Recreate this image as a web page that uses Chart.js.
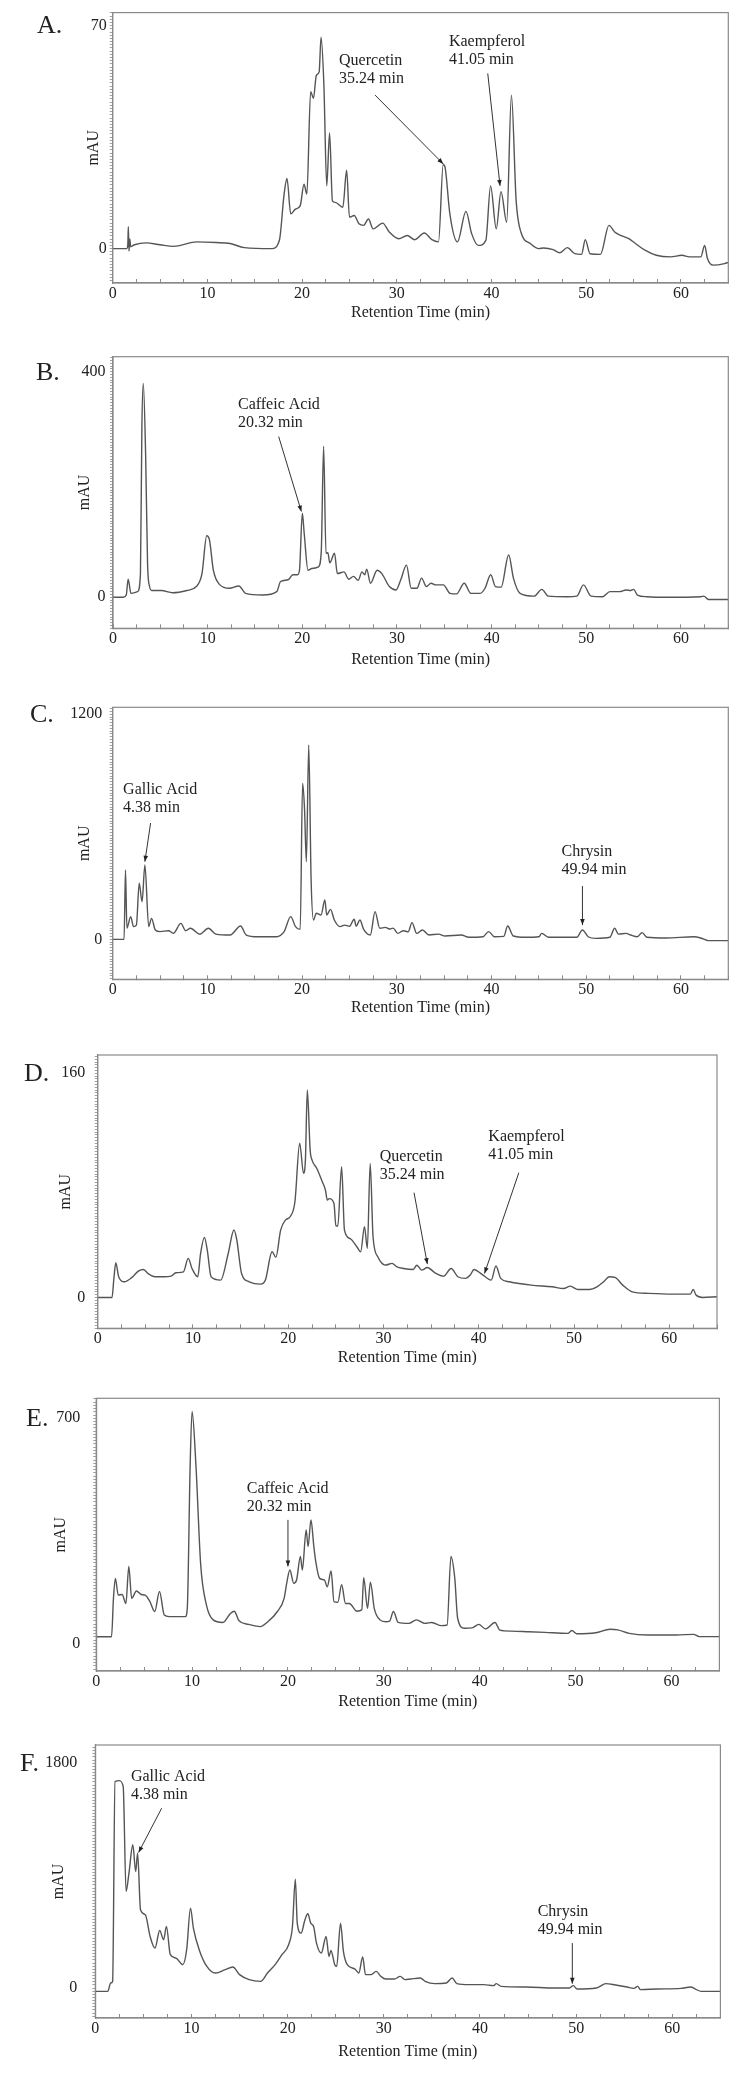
<!DOCTYPE html>
<html>
<head>
<meta charset="utf-8">
<script src="https://cdn.jsdelivr.net/npm/chart.js@4.4.1/dist/chart.umd.min.js"></script>
<style>
  body { margin: 0; background: #fff; }
  canvas { position: absolute; left: 0; }
</style>
</head>
<body>
<canvas id="chartA"></canvas>
<canvas id="chartB"></canvas>
<canvas id="chartC"></canvas>
<canvas id="chartD"></canvas>
<canvas id="chartE"></canvas>
<canvas id="chartF"></canvas>
<script>
// retention time axis (min)
const xTickLabels = [0, 10, 20, 30, 40, 50, 60];

// A
const timeA = [0, 1.5, 1.6, 1.65, 1.72, 1.8, 1.9, 2.3, 3.5, 5.0,
  6.4, 8.9, 10.9, 12.4, 13.9, 16.8, 17.6, 18.1, 18.4, 18.8,
  19.3, 19.8, 20.2, 20.5, 20.9, 21.2, 21.5, 21.8, 22.0, 22.3,
  22.6, 22.9, 23.2, 23.5, 24.3, 24.7, 25.0, 25.5, 26.0, 26.5,
  27.0, 27.5, 28.5, 29.2, 30.2, 31.1, 31.9, 32.9, 33.7, 34.4,
  34.9, 35.1, 35.6, 36.4, 37.3, 37.9, 38.6, 39.4, 39.9, 40.5,
  41.0, 41.6, 42.1, 42.6, 43.1, 44.1, 45.0, 45.5, 46.5, 47.2,
  48.0, 48.8, 49.5, 49.9, 50.4, 51.5, 52.4, 53.0, 53.7, 54.5,
  55.2, 56.2, 57.4, 58.9, 60.1, 60.9, 62.1, 62.5, 62.8, 63.4,
  64.6, 65];
const mauA = [0, 0, 1.5, 6.9, -0.8, 3.0, 0.6, 1.2, 1.8, 1.2,
  0.7, 2.1, 1.9, 1.6, 0.3, 0, 2.6, 17.1, 22, 10.9,
  12.4, 13.5, 20.2, 17.1, 49.3, 47.2, 54.4, 55.5, 66.4, 51.3,
  19.7, 36.3, 15, 14.5, 13, 24.6, 9.9, 10.4, 7.8, 7.3,
  9.3, 6.2, 8, 5.2, 3.1, 4.1, 2.8, 4.9, 2.8, 2.1,
  26.4, 25.4, 10.9, 2.1, 11.7, 4.7, 1, 2.6, 19.7, 6.2,
  17.9, 8.3, 48.2, 15, 5.2, 1.6, 0, 0.2, -0.3, -1.3,
  0.3, -1.6, -1.8, 2.8, -1.6, -1.8, 7.3, 5.2, 4.1, 3.1,
  1.6, -0.5, -2.1, -2.6, -2.1, -2.6, -2.6, 1, -3.1, -5.2,
  -4.7, -4.3];
const yTicksA = [0, 70];

// B
const timeB = [0, 1.1, 1.4, 1.6, 1.9, 2.6, 2.9, 3.05, 3.2, 3.45,
  3.65, 3.85, 4.1, 5.1, 6.3, 7.8, 8.8, 9.4, 9.9, 10.2,
  10.6, 11.3, 12.3, 13.3, 14.0, 15.8, 17.3, 17.7, 18.5, 19.0,
  19.5, 19.7, 20.0, 20.2, 20.6, 21.0, 21.7, 22.0, 22.25, 22.5,
  22.7, 22.9, 23.4, 23.7, 24.4, 24.9, 25.4, 25.9, 26.3, 26.6,
  26.8, 27.2, 27.9, 28.4, 29.2, 29.9, 30.4, 31.0, 31.5, 32.1,
  32.6, 33.1, 33.6, 34.1, 34.9, 35.6, 36.3, 37.1, 37.8, 38.8,
  39.3, 39.9, 40.4, 41.0, 41.8, 42.3, 43.0, 44.5, 45.3, 46.0,
  48.0, 49.0, 49.7, 50.5, 51.7, 52.5, 53.5, 54.2, 54.7, 55.0,
  55.4, 56.4, 58.4, 62.1, 62.4, 62.9, 65];
const mauB = [0, 0, 4, 32, 7, 10, 42, 300, 379, 250,
  60, 20, 12, 12, 8, 12, 19, 42, 109, 101,
  48, 22, 16, 20, 7, 4, 10, 28, 31, 40,
  40, 48, 149, 113, 48, 51, 54, 81, 268, 78,
  79, 61, 78, 42, 45, 32, 37, 30, 45, 40,
  50, 25, 48, 42, 19, 13, 31, 57, 16, 16,
  34, 19, 25, 22, 22, 7, 6, 25, 7, 7,
  16, 40, 19, 18, 75, 34, 7, 2, 14, 2,
  1, 2, 22, 2, 1, 10, 10, 13, 12, 14,
  4, 1, 0, 1, 2, -4, -4];
const yTicksB = [0, 400];

// C
const timeC = [0, 1.2, 1.35, 1.5, 1.9, 2.2, 2.5, 2.8, 3.1, 3.4,
  3.8, 4.1, 4.5, 5.0, 5.9, 6.4, 7.2, 7.7, 8.2, 9.2,
  10.1, 10.9, 12.4, 13.5, 14.1, 15.3, 17.3, 18.1, 18.8, 19.3,
  19.8, 20.05, 20.25, 20.45, 20.7, 20.95, 21.2, 21.5, 22.0, 22.4,
  22.6, 23.0, 23.4, 24.0, 24.5, 25.0, 25.5, 25.7, 26.1, 26.5,
  27.2, 27.7, 28.2, 28.8, 29.2, 29.6, 30.1, 30.7, 31.2, 31.6,
  32.1, 32.7, 33.4, 34.4, 35.1, 36.8, 37.6, 39.1, 39.7, 40.3,
  41.3, 41.7, 42.3, 43.6, 45.0, 45.3, 46.0, 49.0, 49.6, 50.2,
  51.0, 52.5, 53.0, 53.4, 54.2, 54.7, 55.4, 55.9, 56.4, 58.4,
  61.4, 62.1, 62.9, 65];
const mauC = [0, 0, 370, 60, 121, 68, 76, 299, 201, 396,
  68, 112, 50, 41, 46, 32, 85, 46, 59, 28,
  59, 28, 23, 71, 23, 14, 14, 41, 121, 68,
  53, 832, 700, 414, 1036, 316, 103, 139, 130, 210,
  130, 160, 103, 68, 76, 70, 107, 70, 103, 53,
  23, 148, 59, 64, 55, 60, 32, 46, 40, 89,
  32, 50, 23, 28, 18, 23, 11, 14, 41, 14,
  16, 71, 18, 11, 14, 32, 11, 11, 50, 14,
  5, 11, 59, 28, 32, 23, 14, 36, 11, 7,
  14, 7, -7, -7];
const yTicksC = [0, 1200];

// D
const timeD = [0, 1.5, 1.7, 1.9, 2.2, 2.8, 3.6, 4.3, 4.8, 5.3,
  6.0, 7.0, 7.7, 8.2, 9.0, 9.5, 9.9, 10.5, 10.8, 11.2,
  11.5, 11.9, 12.9, 13.7, 14.3, 14.6, 15.1, 15.9, 17.1, 17.6,
  18.3, 18.7, 19.2, 19.7, 20.2, 20.7, 21.2, 21.6, 21.8, 22.0,
  22.3, 22.5, 23.0, 23.5, 23.9, 24.1, 24.3, 24.8, 25.0, 25.2,
  25.6, 25.9, 26.5, 27.2, 27.6, 28.0, 28.3, 28.6, 28.9, 29.4,
  30.2, 30.9, 31.4, 32.1, 33.1, 33.5, 34.0, 34.6, 35.4, 36.3,
  37.1, 37.8, 38.6, 39.1, 39.5, 40.3, 41.3, 41.8, 42.3, 43.2,
  45.5, 47.7, 48.9, 49.6, 50.4, 51.6, 52.4, 53.1, 53.7, 54.3,
  55.1, 56.1, 57.8, 60.3, 62.2, 62.5, 62.8, 63.5, 65];
const mauD = [0, 0, 13.6, 24.8, 14.8, 11.2, 14.3, 19, 20, 17,
  14.8, 14.8, 15.2, 17.6, 18.3, 27.9, 20.7, 14.8, 31.4, 42.9,
  33.8, 14.8, 12.4, 31.4, 48.1, 41, 17.1, 11.2, 9.5, 12.4,
  32.6, 28.6, 48.1, 55.2, 57.6, 68.3, 110, 88.6, 98, 148,
  105, 98, 92, 83.8, 76.7, 69.5, 70.5, 67.1, 51, 51,
  93.3, 48.1, 42, 36.2, 32.6, 50.5, 35, 95.7, 43.3, 29,
  23.1, 24.3, 21.9, 20.7, 20, 23, 19.5, 21.4, 17.6, 15.2,
  20.7, 14.8, 13.6, 16, 20, 16.7, 12.4, 22.4, 13.6, 11.2,
  8.8, 7.6, 6.4, 8.1, 5.7, 5.7, 7.6, 11.2, 14.8, 14.3,
  8.8, 4, 2.9, 2.4, 2.4, 5.7, 1.7, 0, 0.5];
const yTicksD = [0, 160];

// E
const timeE = [0, 1.6, 1.8, 2.0, 2.3, 2.7, 3.1, 3.4, 3.7, 4.2,
  4.7, 5.1, 5.6, 6.1, 6.6, 7.1, 7.6, 9.3, 9.5, 9.8,
  10.0, 10.4, 10.9, 11.5, 12.2, 13.2, 14.0, 14.4, 14.9, 15.9,
  17.1, 17.9, 18.9, 19.6, 19.9, 20.2, 20.6, 20.9, 21.3, 21.5,
  21.9, 22.1, 22.4, 22.7, 22.9, 23.3, 23.8, 24.1, 24.5, 24.8,
  25.2, 25.6, 26.0, 26.4, 27.2, 27.7, 27.9, 28.3, 28.6, 29.0,
  29.6, 30.2, 30.6, 31.0, 31.5, 32.6, 33.4, 34.3, 35.0, 36.0,
  36.6, 37.0, 37.4, 37.7, 38.4, 39.2, 39.9, 40.6, 41.6, 42.1,
  43.3, 45.1, 46.8, 49.2, 49.6, 50.1, 52.1, 53.6, 54.4, 55.6,
  57.5, 60.5, 62.3, 62.9, 65];
const mauE = [20.7, 20.7, 140, 202, 150, 152, 124, 239, 140, 163,
  152, 150, 130, 99, 161, 88, 83, 83, 109, 555,
  721, 555, 244, 119, 73, 65, 93, 100, 70, 59,
  52, 67, 99, 140, 192, 228, 187, 197, 270, 228,
  353, 301, 384, 301, 254, 202, 197, 176, 225, 130,
  128, 182, 124, 124, 100, 104, 204, 109, 190, 109,
  73, 67, 69, 99, 65, 62, 73, 62, 65, 55,
  57, 270, 202, 78, 47, 48, 59, 45, 65, 41,
  38, 36, 34, 31, 40, 30, 33, 44, 42, 31,
  26, 26, 28, 21, 21];
const yTicksE = [0, 700];

// F
const timeF = [0, 1.3, 1.6, 1.8, 2.05, 2.5, 2.9, 3.2, 3.5, 3.9,
  4.2, 4.4, 4.7, 5.2, 5.7, 6.2, 6.7, 7.1, 7.4, 7.8,
  8.4, 9.1, 9.5, 9.9, 10.2, 10.8, 11.6, 12.5, 13.5, 14.3,
  15.0, 16.0, 17.2, 17.9, 18.7, 19.4, 20.1, 20.5, 20.8, 21.0,
  21.4, 21.8, 22.1, 22.4, 22.7, 23.0, 23.5, 24.0, 24.3, 24.5,
  24.9, 25.1, 25.5, 25.8, 26.2, 27.0, 27.4, 27.8, 28.1, 28.7,
  29.2, 29.7, 30.2, 31.1, 31.7, 32.2, 32.8, 33.8, 34.3, 35.3,
  36.5, 37.1, 37.6, 38.9, 40.4, 41.4, 41.7, 42.2, 44.8, 47.7,
  49.3, 49.7, 50.1, 52.1, 53.1, 54.1, 55.3, 56.0, 56.4, 56.7,
  58.4, 60.9, 61.9, 62.4, 63.0, 65];
const mauF = [-27, -27, 40, 53, 1653, 1661, 1613, 773, 920, 1147,
  933, 1080, 627, 587, 413, 320, 461, 387, 493, 267,
  240, 187, 307, 640, 480, 307, 173, 120, 147, 168,
  107, 67, 53, 120, 187, 267, 347, 493, 872, 520,
  440, 547, 595, 520, 493, 360, 280, 413, 253, 301,
  187, 173, 520, 293, 187, 152, 120, 248, 107, 107,
  133, 93, 72, 72, 93, 67, 72, 80, 53, 35,
  40, 80, 35, 27, 27, 19, 35, 13, 8, 0,
  0, 19, -8, 0, 35, 24, 8, -3, 13, -13,
  -8, -3, 8, -8, -27, -27];
const yTicksF = [0, 1800];

// labelled compounds: text anchor and arrow in data units
const notesA = [
  {name: "Quercetin", time: "35.24 min", text: [23.9, 59.1], from: [27.7, 48.2], to: [34.9, 26.6]},
  {name: "Kaempferol", time: "41.05 min", text: [35.5, 64.8], from: [39.6, 55], to: [40.9, 19.7]}
];
const notesB = [
  {name: "Caffeic Acid", time: "20.32 min", text: [13.2, 341], from: [17.5, 285], to: [19.9, 152]}
];
const notesC = [
  {name: "Gallic Acid", time: "4.38 min", text: [1.1, 796], from: [4.0, 620], to: [3.4, 414]},
  {name: "Chrysin", time: "49.94 min", text: [47.4, 468], from: [49.6, 284], to: [49.6, 76]}
];
const notesD = [
  {name: "Quercetin", time: "35.24 min", text: [29.6, 100.5], from: [33.2, 74.8], to: [34.6, 23.8]},
  {name: "Kaempferol", time: "41.05 min", text: [41.0, 114.8], from: [44.2, 89], to: [40.6, 17.1]}
];
const notesE = [
  {name: "Caffeic Acid", time: "20.32 min", text: [15.7, 480], from: [20.0, 384], to: [20.0, 239]}
];
const notesF = [
  {name: "Gallic Acid", time: "4.38 min", text: [3.7, 1693], from: [6.9, 1440], to: [4.5, 1085]},
  {name: "Chrysin", time: "49.94 min", text: [46.0, 613], from: [49.6, 360], to: [49.6, 35]}
];

const FONT = '"Liberation Serif", "Times New Roman", serif';
const INK = "#222";
const AXIS = "#8a8a8a";

const panels = [
  {id: "chartA", letter: "A.", top: 0, height: 340, area: [112.7, 728.5, 10, 283], yRange: [-10.8, 74.1], yStep: 1,
   yTicks: yTicksA, time: timeA, mau: mauA, notes: notesA, yTitleX: 94, xTitleY: 313, letterX: 37, yPad: 3},
  {id: "chartB", letter: "B.", top: 340, height: 340, area: [113, 729, 356.7, 628.3], yRange: [-55, 426.6], yStep: 5,
   yTicks: yTicksB, time: timeB, mau: mauB, notes: notesB, yTitleX: 84.5, xTitleY: 660, letterX: 36, yPad: 4.5},
  {id: "chartC", letter: "C.", top: 680, height: 340, area: [112.7, 729, 707.3, 979.3], yRange: [-213, 1237], yStep: 15,
   yTicks: yTicksC, time: timeC, mau: mauC, notes: notesC, yTitleX: 84.5, xTitleY: 1008, letterX: 30, yPad: 7.5},
  {id: "chartD", letter: "D.", top: 1020, height: 345, area: [97.7, 717, 1055, 1328.3], yRange: [-22, 173], yStep: 2,
   yTicks: yTicksD, time: timeD, mau: mauD, notes: notesD, yTitleX: 66, xTitleY: 1358, letterX: 24, yPad: 9.5},
  {id: "chartE", letter: "E.", top: 1365, height: 345, area: [96.2, 719.4, 1398.3, 1671], yRange: [-86, 762], yStep: 10,
   yTicks: yTicksE, time: timeE, mau: mauE, notes: notesE, yTitleX: 61, xTitleY: 1702, letterX: 26, yPad: 13},
  {id: "chartF", letter: "F.", top: 1710, height: 363, area: [95.3, 720.4, 1745, 2018], yRange: [-240, 1946], yStep: 25,
   yTicks: yTicksF, time: timeF, mau: mauF, notes: notesF, yTitleX: 59, xTitleY: 2052, letterX: 20, yPad: 15}
];

// box round the plot area
const framePlugin = {
  id: "frame",
  afterDraw(chart) {
    const a = chart.chartArea, ctx = chart.ctx;
    ctx.save();
    ctx.strokeStyle = AXIS;
    ctx.lineWidth = 1.2;
    ctx.strokeRect(a.left, a.top, a.right - a.left, a.bottom - a.top);
    ctx.restore();
  }
};

// compound labels with arrows + panel letter
const notesPlugin = {
  id: "notes",
  afterDraw(chart, args, opts) {
    const ctx = chart.ctx, xs = chart.scales.x, ys = chart.scales.y;
    ctx.save();
    ctx.fillStyle = INK;
    ctx.strokeStyle = "#333";
    ctx.font = "16px " + FONT;
    ctx.textAlign = "left";
    ctx.textBaseline = "middle";
    (opts.items || []).forEach(n => {
      const tx = xs.getPixelForValue(n.text[0]);
      const ty = ys.getPixelForValue(n.text[1]);
      ctx.fillText(n.name, tx, ty);
      ctx.fillText(n.time, tx, ty + 18);
      const x1 = xs.getPixelForValue(n.from[0]), y1 = ys.getPixelForValue(n.from[1]);
      const x2 = xs.getPixelForValue(n.to[0]), y2 = ys.getPixelForValue(n.to[1]);
      ctx.lineWidth = 1;
      ctx.beginPath();
      ctx.moveTo(x1, y1);
      ctx.lineTo(x2, y2);
      ctx.stroke();
      const ang = Math.atan2(y2 - y1, x2 - x1);
      ctx.beginPath();
      ctx.moveTo(x2, y2);
      ctx.lineTo(x2 - 6 * Math.cos(ang) + 2.3 * Math.sin(ang), y2 - 6 * Math.sin(ang) - 2.3 * Math.cos(ang));
      ctx.lineTo(x2 - 6 * Math.cos(ang) - 2.3 * Math.sin(ang), y2 - 6 * Math.sin(ang) + 2.3 * Math.cos(ang));
      ctx.closePath();
      ctx.fill();
    });
    ctx.font = "26px " + FONT;
    ctx.fillText(opts.letter, opts.letterX, ys.getPixelForValue(opts.letterAt) + 1);
    ctx.restore();
  }
};

function buildPanel(p) {
  const canvas = document.getElementById(p.id);
  canvas.width = 733;
  canvas.height = p.height;
  canvas.style.top = p.top + "px";
  const [L, R, T, B] = p.area;
  const xH = p.xTitleY - B + 9.6;
  const points = p.time.map((t, i) => ({x: t, y: p.mau[i]}));

  new Chart(canvas, {
    type: "line",
    data: {
      datasets: [{
        data: points,
        borderColor: "#555",
        borderWidth: 1.4,
        pointRadius: 0,
        cubicInterpolationMode: "monotone",
        fill: false
      }]
    },
    options: {
      responsive: false,
      animation: false,
      layout: {
        autoPadding: false,
        padding: {left: 0, right: 733 - R, top: T - p.top, bottom: p.height - (B - p.top) - xH}
      },
      plugins: {
        legend: {display: false},
        tooltip: {enabled: false},
        notes: {items: p.notes, letter: p.letter, letterX: p.letterX, letterAt: p.yTicks[p.yTicks.length - 1]}
      },
      scales: {
        x: {
          type: "linear",
          min: 0,
          max: 65,
          afterFit: s => { s.height = xH; },
          afterBuildTicks: s => {
            const ticks = [];
            for (let k = 0; k * 2.5 <= 65; k++) ticks.push({value: k * 2.5});
            s.ticks = ticks;
          },
          ticks: {
            autoSkip: false,
            maxRotation: 0,
            padding: 4.7,
            color: INK,
            font: {family: FONT, size: 16},
            callback: v => xTickLabels.includes(v) ? String(v) : ""
          },
          grid: {drawOnChartArea: false, tickLength: -4, color: AXIS, lineWidth: 1},
          border: {color: AXIS, width: 1.2},
          title: {
            display: true,
            text: "Retention Time (min)",
            color: INK,
            font: {family: FONT, size: 16},
            padding: {top: 0, bottom: 0}
          }
        },
        y: {
          type: "linear",
          min: p.yRange[0],
          max: p.yRange[1],
          afterFit: s => { s.width = L; },
          afterBuildTicks: s => {
            const ticks = [];
            const k0 = Math.ceil(p.yRange[0] / p.yStep);
            for (let k = k0; k * p.yStep <= p.yRange[1]; k++) ticks.push({value: k * p.yStep});
            s.ticks = ticks;
          },
          ticks: {
            autoSkip: false,
            padding: p.yPad,
            color: INK,
            font: {family: FONT, size: 16},
            callback: v => p.yTicks.includes(v) ? String(v) : ""
          },
          grid: {drawOnChartArea: false, tickLength: 3, color: AXIS, lineWidth: 0.8},
          border: {color: AXIS, width: 1.2},
          title: {
            display: true,
            text: "mAU",
            color: INK,
            font: {family: FONT, size: 16},
            padding: {top: p.yTitleX - 9.6, bottom: 0}
          }
        }
      }
    },
    plugins: [framePlugin, notesPlugin]
  });
}

panels.forEach(buildPanel);
</script>
</body>
</html>
